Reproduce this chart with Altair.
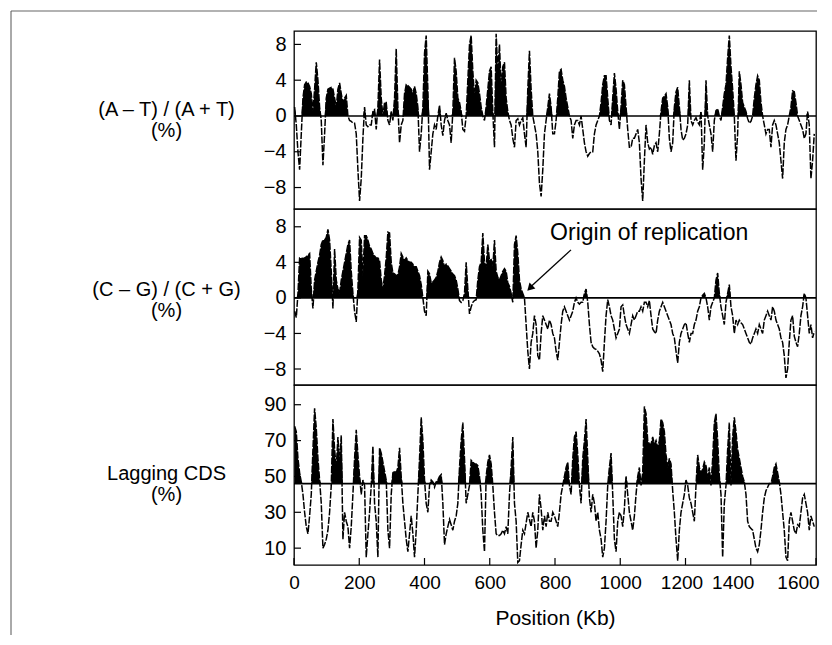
import altair as alt
import pandas as pd

FONT = "Liberation Sans"

# sampling grid along the genome (Kb)
POS_START = 1.9
POS_STEP = 5.105

# (A - T) / (A + T) (%)
AT = [1, -1, -4, -6, -2, 2, 3.5, 3.8, 3.7, 3.3,
      2.5, 0.5, 3, 6, 4, 1, -0.5, -5.5, -2, 2,
      3, 3.1, 3.2, 3, 2, 1, 3, 3.7, 2.5, 1.5,
      2, 2.3, 0, -0.5, -0.6, -0.8, -0.8, -2, -6, -9.5,
      -7, -2.5, 1, -1, -1.2, -1, -1, 0.5, 0.7, -1.5,
      1, 6.3, 2, 0, 1.5, 1.5, -0.5, -1, 0.5, -0.5,
      2, 7.5, 1, -3, -1, -0.5, 2.5, 3.5, 3.4, 3.2,
      3, 2.5, 3.3, 2.5, 1, -4, -2, 1, 7, 9,
      3, -6, -4, -2, -1, -1.5, 0, 1.2, -1, -2.2,
      -0.5, 0.3, -0.5, -1, -3, 0.5, 6.5, 5, 2, 1.5,
      0.5, -1.5, -1.7, 0, 4, 8, 9, 5, 2, 4,
      3.7, 2.5, 1, 0, -0.5, 1, 3, 5, 5.5, 0.5,
      -3.5, 9.2, 5, 8, 3.2, 5.5, 6, 2, 0.5, -0.5,
      -1, -2.5, -3.5, -0.5, -0.3, -1, -0.5, -0.2, -2, -3.5,
      3, 7.3, 3, 0, -1, -2, -4, -7.5, -9, -6,
      -2, -0.5, 1, 2.5, 1,
      -2, -2, -0.5, 2, 5, 5.2, 4, 3.3, 2, 1,
      0, -0.5, -2.5, -1, -0.5, -0.5, -1, 0, -1.5, -3,
      -4, -4.5, -4.2, -4, -4, -2, -1, -0.5, 0, 1.5,
      3.5, 4.5, 4.5, 2, -0.5, -1, 2, 4.8, 3, 0.5,
      -1.5, 1, 4, 3.5, 1, -1.5, -3.5, -3.5, -2.5, -2.5,
      -2, -1.5, -3, -7, -9.5, -5, -1, -3, -3.7, -3.5,
      -4.3, -3.3, -3, -4, -2, 0.5, 2, 2.2, 2.5, 1,
      -2.5, -4, -3, 1, 2.7, 3.2, 1, -1.5, -2.7, -2.5,
      -2, -1, 4, -0.5, -1, -0.5, -0.2, -0.7, -1, 0.5,
      -6, -3, 4, 0, -1, -2, -4, -0.5, 0.6, 0.8,
      0, -0.5, 1, 2.5, 3.5, 6.5, 9, 5.5, 3, 0,
      -5, -2, 5, 3.5, 1.5, 1, 0.5, -0.3, -0.8, -0.6,
      0, 2, 3.5, 4.5, 4, 1.5, 0, -1, -2, -1.5,
      -1.5, -3.5, -1, -0.5, -1, -2, -3, -5, -7, -3,
      -1.5, -1, 0, 1, 2.8, 2.7, 1.5, 0, -0.5, -1,
      -1.5, -2.5, -2, 0.5, -1, -7, -5, -2]

# (C - G) / (C + G) (%)
CG = [-1.5, -2.2, 0.5, 4.5, 4.5, 4.4, 4.5, 4.6, 4.8, 5,
      1, -1.2, 2, 3, 4, 4.8, 6, 6.5, 6.5, 6.8,
      7.7, 6.5, 3, -1.2, 5.5, 2, 1, 0.5, 2, 3,
      4, 5, 6, 6.5, 3, 0.5, -1.5, -2.7, 1, 6.8,
      6.5, 2.5, 7, 7, 6.5, 5.8, 5.5, 5, 4.7, 4.5,
      4.5, 4.2, 2, 1, 2.5, 4.5, 7.4, 7.3, 4, 2.8,
      2.7, 2.5, 2.6, 3.5, 5, 4.6, 4.2, 4.5, 4.2, 4,
      4, 3.8, 3.5, 3.5, 3, 2.5, 1.5, 0, -1.5, -2,
      3, 2.7, 1.7, 1.8, 2, 2.3, 3, 4, 4.6, 4.2,
      3.5, 3.8, 3.6, 3.3, 3, 2.7, 2.5, 2, 1, -0.3,
      -0.5, -0.3, 0.5, 4, 1, -1.8, -1, -0.5, -0.3, -0.2,
      2, 3.5, 4, 7.3, 4, 3.5, 6, 4.2, 4.3, 3.5,
      6.5, 3, 2.3, 2, 2.5, 3, 3.3, 3, 1.7, 1.3,
      0.5, -0.5, 6, 7, 5, 2, 1, 0.5, 0, -3,
      -6, -8, -5, -4, -2, -3, -6.5, -7, -4, -2,
      -2.5, -3, -3.5, -2.5, -3,
      -4, -4.5, -6, -7, -5, -3, -1.5, -1, -1.5, -2,
      -2.5, -2, -1.5, -0.5, 0, -0.5, -0.7, -0.5, -0.5, 0.5,
      1, -0.5, -3, -5, -5.5, -5.7, -5.8, -6, -6.3, -7,
      -8.3, -5, -2, -0.2, -1, -2, -2.5, -3.5, -4.5, -4,
      -3.5, -1, -0.8, -2, -3, -3.5, -4, -3, -2, -2.5,
      -2, -1.5, -1.5, -1, -1.5, -0.5, -0.5, -1, -0.3, -2,
      -3.5, -3.8, -4, -2.5, -1.5, -1, -0.5, -1, -1.5, -2,
      -2.5, -3, -4, -4.5, -6, -7.3, -5, -4, -3.5, -3,
      -2.8, -4, -5, -4, -4, -3, -2.5, -1.5, -1, 0,
      0.3, 0.5, 0, -1, -2.5, -1, -0.5, 0, 2, 2.8,
      0.5, -1, -2, -3, -0.5, 0.5, 1.5, -1, -2, -4,
      -2.5, -3, -2.5, -2.8, -3, -3.5, -4, -4.5, -5, -5.2,
      -4.5, -4, -3.5, -4, -3, -3.5, -4, -2.5, -2, -1.5,
      -2, -2.5, -1, -1.5, -2.5, -3, -3.5, -4.5, -5, -6.5,
      -9, -8, -5, -2.5, -2, -4.3, -5, -5.5, -4, -2,
      -1, 0.5, 0, -2, -4, -3, -4.5, -3.8]

# Lagging CDS (%)
LAG = [78, 75, 60, 52, 47, 40, 30, 22, 18, 28,
       40, 65, 88, 77, 60, 48, 35, 10, 12, 15,
       20, 30, 45, 82, 65, 55, 72, 58, 73, 15,
       30, 25, 22, 10, 22, 40, 60, 76, 62, 50,
       40, 48, 45, 5, 18, 30, 45, 67, 35, 25,
       5, 66, 63, 58, 53, 48, 20, 10, 40, 52,
       53, 52, 55, 66, 50, 35, 25, 15, 8, 18,
       28, 18, 5, 20, 40, 60, 83, 70, 48, 35,
       30, 45, 48, 47, 44, 47, 48, 50, 51, 35,
       12, 18, 22, 26, 23, 20, 25, 28, 35, 55,
       70, 80, 60, 35, 40, 45, 59, 58, 57, 57,
       56, 50, 40, 20, 8, 50, 58, 62, 57, 45,
       30, 18, 17, 17, 18, 20, 18, 22, 18, 40,
       55, 72, 35, 25, 2, 3, 12, 20, 18, 24,
       30, 26, 22, 30, 25, 10, 20, 40, 32, 20,
       28, 22, 30, 25, 25,
       30, 28, 25, 22, 30, 40, 45, 50, 55, 58,
       45, 40, 60, 72, 75, 62, 45, 35, 60, 70,
       82, 60, 38, 30, 40, 35, 25, 30, 20, 15,
       5, 10, 25, 45, 55, 63, 40, 15, 8, 25,
       30, 28, 22, 32, 50, 40, 30, 25, 20, 28,
       40, 50, 55, 45, 52, 89, 85, 70, 68, 68,
       72, 68, 70, 66, 70, 82, 80, 75, 62, 55,
       60, 57, 42, 30, 15, 3, 20, 30, 35, 40,
       48, 45, 38, 35, 30, 25, 45, 62, 55, 52,
       54, 58, 56, 50, 55, 45, 60, 80, 85, 70,
       50, 40, 5, 35, 45, 65, 80, 45, 72, 83,
       75, 65, 60, 55, 50, 47, 40, 25, 22, 21,
       20, 15, 10, 8, 12, 20, 30, 38, 42, 44,
       46, 46, 50, 55, 57, 52, 47, 40, 30, 20,
       5, 3, 25, 30, 25, 20, 18, 23, 22, 30,
       38, 40, 35, 30, 20, 28, 25, 22]

X_TICKS = [0, 200, 400, 600, 800, 1000, 1200, 1400, 1600]
AT_TICKS = [-8, -4, 0, 4, 8]
CG_TICKS = [-8, -4, 0, 4, 8]
LAG_TICKS = [10, 30, 50, 70, 90]

AT_TITLE = ["(A \u2013 T) / (A + T)", "(%)"]
CG_TITLE = ["(C \u2013 G) / (C + G)", "(%)"]
LAG_TITLE = ["Lagging CDS", "(%)"]

ORIGIN_LABEL = ["Origin of replication"]
ORIGIN_TEXT_X = [785]
ORIGIN_TEXT_Y = [6.5]
ARROW_X1 = [849]
ARROW_Y1 = [5.4]
ARROW_X2 = [724]
ARROW_Y2 = [1.2]
ARROW_HEAD_X = [723]
ARROW_HEAD_Y = [1.1]

W = 522
XS = alt.Scale(domain=[0, 1600], nice=False, zero=False)


def panel(vals, base, dom, ticks, h, title, title_y, bottom=False, extra=None):
    pos = [round(POS_START + i * POS_STEP, 3) for i in range(len(vals))]
    df = pd.DataFrame({"pos": pos, "val": vals})
    ys = alt.Scale(domain=dom, nice=False, zero=False)
    if bottom:
        xaxis = alt.Axis(values=X_TICKS, format="d", labelOverlap=False, title="Position (Kb)",
                         ticks=False, domain=False, grid=False, labelFontSize=19, labelPadding=8,
                         labelFlush=False,
                         labelOffset={"condition": [
                             {"test": "datum.value == 1200", "value": -4},
                             {"test": "datum.value >= 1400", "value": -18}],
                             "value": 0},
                         titleFontSize=21, titleFontWeight="normal", titlePadding=15)
    else:
        xaxis = None
    yaxis = alt.Axis(values=ticks, title=title, titleAngle=0, titleAlign="center",
                     titleBaseline="alphabetic", titleX=-128, titleY=title_y,
                     titleFontSize=20, titleFontWeight="normal", titleLineHeight=21,
                     ticks=False, domain=False, grid=False, labelFontSize=20, labelPadding=8)
    X = lambda f: alt.X(f, scale=XS, axis=xaxis)
    Y = lambda f: alt.Y(f, scale=ys, axis=yaxis)

    area = alt.Chart(df).transform_calculate(
        top=f"max(datum.val, {base})", b=f"{base}"
    ).mark_area(color="black", interpolate="linear").encode(
        x=X("pos:Q"), y=Y("top:Q"), y2="b:Q")
    line = alt.Chart(df).mark_line(color="black", strokeWidth=1.5, strokeDash=[7, 1.5]).encode(
        x=X("pos:Q"), y=Y("val:Q"))
    baseline = alt.Chart(pd.DataFrame({"b": [base]})).mark_rule(
        color="black", strokeWidth=1.6).encode(y=Y("b:Q"))
    yticks = alt.Chart(pd.DataFrame({"t": ticks})).mark_rule(
        color="black", strokeWidth=1.2).encode(y=Y("t:Q"), x=alt.value(0), x2=alt.value(7))
    layers = [area, line, baseline, yticks]
    if bottom:
        xticks = alt.Chart(pd.DataFrame({"t": X_TICKS})).mark_rule(
            color="black", strokeWidth=1.2).encode(x=X("t:Q"), y=alt.value(h - 7), y2=alt.value(h))
        layers.append(xticks)
    if extra == "origin":
        txt = alt.Chart(pd.DataFrame({"x": ORIGIN_TEXT_X, "y": ORIGIN_TEXT_Y, "t": ORIGIN_LABEL})).mark_text(
            align="left", baseline="alphabetic", fontSize=23, font=FONT, color="black").encode(
            x=X("x:Q"), y=Y("y:Q"), text="t:N")
        arr = alt.Chart(pd.DataFrame({"x1": ARROW_X1, "y1": ARROW_Y1, "x2": ARROW_X2, "y2": ARROW_Y2})).mark_rule(
            color="black", strokeWidth=1.3).encode(x=X("x1:Q"), y=Y("y1:Q"), x2="x2:Q", y2="y2:Q")
        head = alt.Chart(pd.DataFrame({"x": ARROW_HEAD_X, "y": ARROW_HEAD_Y})).mark_point(
            shape="triangle-up", filled=True, size=70, angle=225, color="black", opacity=1).encode(
            x=X("x:Q"), y=Y("y:Q"))
        layers += [txt, arr, head]
    if extra == "frame":
        top_line = alt.Chart(pd.DataFrame({"k": [0]})).mark_rect(color="#666666").encode(
            x=alt.value(-283), x2=alt.value(523), y=alt.value(-20.6), y2=alt.value(-19.4))
        left_line = alt.Chart(pd.DataFrame({"k": [0]})).mark_rule(color="#555555", strokeWidth=1).encode(
            x=alt.value(-283), y=alt.value(-20), y2=alt.value(604))
        layers += [top_line, left_line]
    return alt.layer(*layers).properties(width=W, height=h)


p1 = panel(AT, 0, [-10.4, 9.5], AT_TICKS, 178, AT_TITLE, 84, extra="frame")
p2 = panel(CG, 0, [-9.8, 10], CG_TICKS, 176, CG_TITLE, 86, extra="origin")
p3 = panel(LAG, 46, [0.6, 101], LAG_TICKS, 180, LAG_TITLE, 94, bottom=True)

chart = alt.vconcat(p1, p2, p3, spacing=0, bounds="flush").properties(
    padding={"left": 1, "top": 1, "right": 2, "bottom": 0}
).configure_view(stroke="black", strokeWidth=1.3).configure_axis(
    labelFont=FONT, titleFont=FONT, labelColor="black", titleColor="black"
)

chart.save("out.html", embed_options={"renderer": "svg", "actions": False})
